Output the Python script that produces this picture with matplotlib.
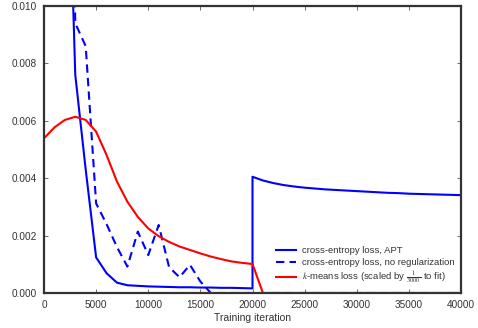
import matplotlib
matplotlib.use("Agg")
import matplotlib.pyplot as plt

# Training iterations (a second 20000 entry marks the restart of the APT run)
iters_apt = [0, 1000, 2000, 3000, 4000, 5000, 6000, 7000, 8000, 9000, 10000,
             11000, 12000, 13000, 14000, 15000, 16000, 17000, 18000, 19000, 20000,
             20000, 21000, 22000, 23000, 24000, 25000, 26000, 27000, 28000, 29000,
             30000, 31000, 32000, 33000, 34000, 35000, 36000, 37000, 38000, 39000, 40000]
ce_apt = [0.06, 0.04, 0.0196, 0.0076, 0.0043, 0.00124, 0.00069, 0.00036, 0.00027,
          0.00025, 0.00023, 0.00022, 0.00021, 0.00020, 0.00020, 0.00019, 0.00019,
          0.00018, 0.00018, 0.00017, 0.00016,
          0.00405, 0.00392, 0.00383, 0.00376, 0.00371, 0.00367, 0.00364, 0.00361,
          0.00359, 0.00357, 0.00355, 0.00353, 0.00351, 0.00349, 0.00348, 0.00346,
          0.00345, 0.00344, 0.00343, 0.00342, 0.00341]

iters = list(range(0, 40001, 1000))
ce_noreg = [0.06, 0.045, 0.03, 0.0094, 0.0086, 0.00312, 0.0024, 0.0016, 0.00092,
            0.00214, 0.00132, 0.00237, 0.0009, 0.00055, 0.00098, 0.0004, 0.0,
            0.0, 0.0, 0.0, 0.0, 0.0, 0.0, 0.0, 0.0, 0.0, 0.0, 0.0, 0.0, 0.0, 0.0,
            0.0, 0.0, 0.0, 0.0, 0.0, 0.0, 0.0, 0.0, 0.0, 0.0]
kmeans = [0.00539, 0.00577, 0.00603, 0.00614, 0.00603, 0.00562, 0.00481, 0.00388,
          0.00318, 0.00265, 0.00225, 0.00198, 0.00178, 0.00162, 0.00150, 0.00138,
          0.00127, 0.00118, 0.00110, 0.00105, 0.00101, 0.0, 0.0, 0.0, 0.0, 0.0,
          0.0, 0.0, 0.0, 0.0, 0.0, 0.0, 0.0, 0.0, 0.0, 0.0, 0.0, 0.0, 0.0, 0.0, 0.0]

plt.rcParams['font.family'] = ['Liberation Sans', 'DejaVu Sans']
plt.rcParams['mathtext.fontset'] = 'stix'

fig = plt.figure(figsize=(4.78, 3.28), dpi=100)
ax = fig.add_axes([44 / 478, 1 - 293 / 328, 417 / 478, 287 / 328])

ax.plot(iters_apt, ce_apt, color='#0000ff', lw=1.5, label='cross-entropy loss, APT')
ax.plot(iters, ce_noreg, color='#0000ff', lw=1.5, ls=(0, (4, 2.5)),
        label='cross-entropy loss, no regularization')
ax.plot(iters, kmeans, color='#ff0000', lw=1.5,
        label=r'$k$-means loss (scaled by $\frac{1}{3000}$ to fit)')

ax.set_xlim(0, 40000)
ax.set_ylim(0, 0.010)
ax.set_xticks(range(0, 40001, 5000))
ax.set_yticks([0.0, 0.002, 0.004, 0.006, 0.008, 0.010])
ax.set_yticklabels(['0.000', '0.002', '0.004', '0.006', '0.008', '0.010'])

for s in ax.spines.values():
    s.set_color('#333333')
    s.set_linewidth(1.6)
ax.tick_params(direction='in', length=3, width=0.6, color='#555555',
               labelsize=7.2, labelcolor='#333333', top=True, right=True, pad=5)
ax.set_xlabel('Training iteration', fontsize=7.5, color='#333333', labelpad=2)

ax.legend(loc='lower left', frameon=False, fontsize=6.8, handlelength=2.1,
          handletextpad=0.7, labelspacing=0.32, borderpad=0, borderaxespad=0,
          bbox_to_anchor=((276 - 44) / 417, (293 - 286) / 287),
          labelcolor='#333333')

fig.savefig('out.png', dpi=100)
